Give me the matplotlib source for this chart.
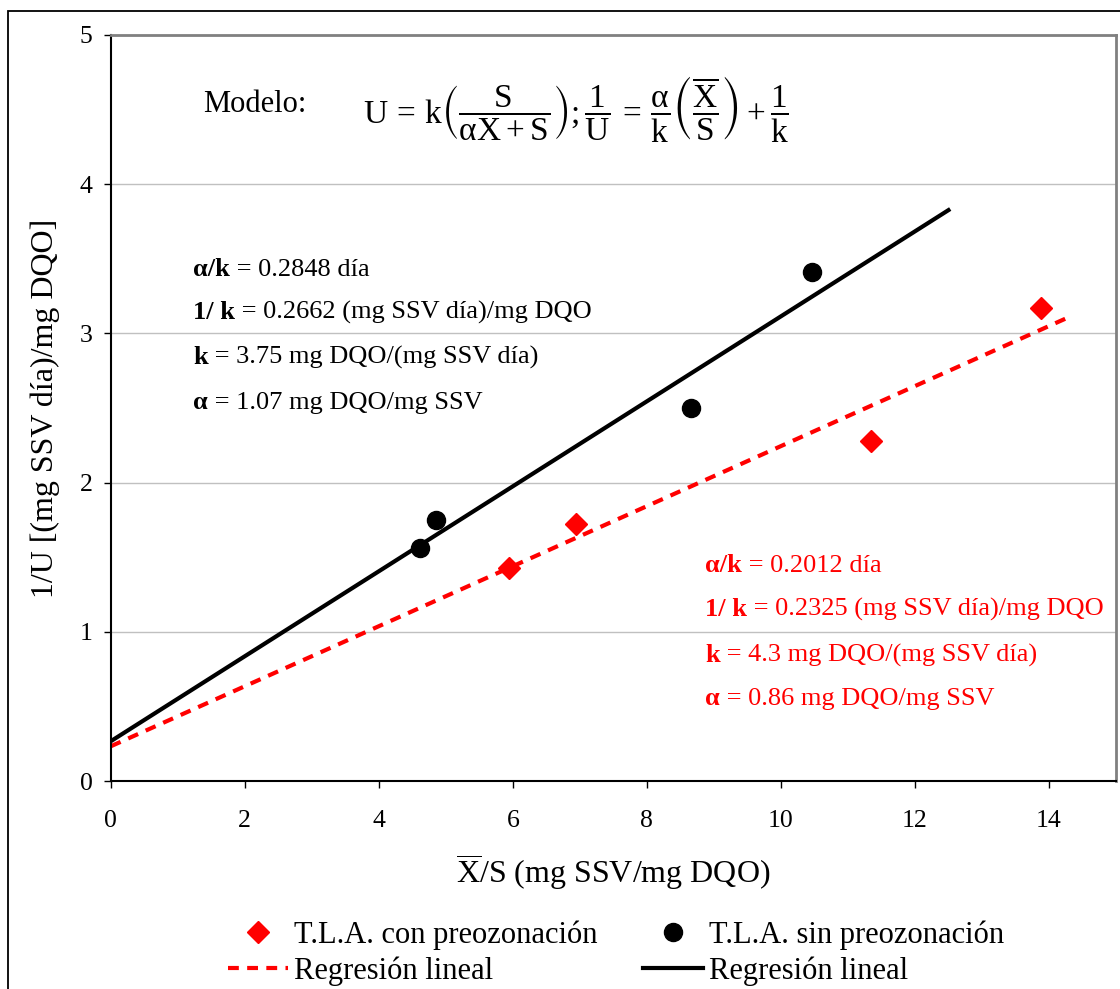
import matplotlib
matplotlib.use("Agg")
import matplotlib.pyplot as plt
from matplotlib.patches import Rectangle
import numpy as np

plt.rcParams['font.family'] = ['Liberation Serif', 'DejaVu Serif']
plt.rcParams['mathtext.fontset'] = 'custom'
plt.rcParams['mathtext.rm'] = 'Liberation Serif'
plt.rcParams['mathtext.it'] = 'Liberation Serif'
plt.rcParams['mathtext.bf'] = 'Liberation Serif:bold'
plt.rcParams['mathtext.fallback'] = 'stix'
plt.rcParams['mathtext.default'] = 'rm'

# Data
x_sin = [4.61, 4.86, 8.66, 10.47]
y_sin = [1.56, 1.75, 2.50, 3.41]
x_con = [5.95, 6.95, 11.35, 13.88]
y_con = [1.43, 1.72, 2.28, 3.17]

slope_sin, icpt_sin, xend_sin = 0.2848, 0.2662, 12.5
slope_con, icpt_con, xend_con = 0.2012, 0.2325, 14.3

xticks = [0, 2, 4, 6, 8, 10, 12, 14]
yticks = [0, 1, 2, 3, 4, 5]

txt_sin = [("α/k", " = 0.2848 día"),
           ("1/ k", " = 0.2662 (mg SSV día)/mg DQO"),
           ("k", " = 3.75 mg DQO/(mg SSV día)"),
           ("α", " = 1.07 mg DQO/mg SSV")]
txt_con = [("α/k", " = 0.2012 día"),
           ("1/ k", " = 0.2325 (mg SSV día)/mg DQO"),
           ("k", " = 4.3 mg DQO/(mg SSV día)"),
           ("α", " = 0.86 mg DQO/mg SSV")]

W, H = 1120, 989
fig = plt.figure(figsize=(W/100, H/100), dpi=100)
ax = fig.add_axes([110.7/W, 1-781/H, (1116-110.7)/W, (781-35)/H])

# figure border
fig.patches.append(Rectangle((8/W, -0.05), 1.2, 1-11/H+0.05, transform=fig.transFigure,
                             fill=False, edgecolor='black', lw=1.3, zorder=0))

ax.set_xlim(0, 15)
ax.set_ylim(0, 5)
ax.set_xticks(xticks)
ax.set_yticks(yticks)
ax.grid(axis='y', color='#c0c0c0', lw=1.0)
ax.set_axisbelow(True)
for s in ['top', 'right']:
    ax.spines[s].set_color('#808080')
    ax.spines[s].set_linewidth(2)
for s in ['left', 'bottom']:
    ax.spines[s].set_color('black')
    ax.spines[s].set_linewidth(1.5)
ax.tick_params(axis='x', direction='out', length=5, width=1, pad=16, labelsize=18.5)
ax.tick_params(axis='y', direction='out', length=5, width=1, pad=8, labelsize=18.5)

xs = np.array([0, xend_sin])
xc = np.array([0, xend_con])
l1, = ax.plot(xc, slope_con*xc + icpt_con, color='red', lw=3, ls=(0, (2.6, 2.0)))
l2, = ax.plot(xs, slope_sin*xs + icpt_sin, color='black', lw=3)
m1, = ax.plot(x_con, y_con, 'D', color='red', ms=11, ls='none')
m2, = ax.plot(x_sin, y_sin, 'o', color='black', ms=13, ls='none')

ax.set_ylabel("1/U [(mg SSV día)/mg DQO]", fontsize=23, labelpad=14)
ax.set_xlabel(r"$\overline{\mathrm{X}}$/S (mg SSV/mg DQO)", fontsize=23, labelpad=14)

# Model text
fig.text(203/W, 1-104/H, "Modelo:", fontsize=22, va='center', ha='left')
fig.text(363/W, 1-109/H,
         r"$U\,=\,k\left(\dfrac{S}{\alpha X + S}\right);\dfrac{1}{U}\,=\,\dfrac{\alpha}{k}\left(\dfrac{\overline{X}}{S}\right)+\dfrac{1}{k}$",
         fontsize=24, va='center', ha='left')

def write_lines(lines, x0, ys, color):
    for (b, r), yy in zip(lines, ys):
        t = fig.text(x0/W, 1-yy/H, b, fontsize=19, fontweight='bold', color=color,
                     va='baseline', ha='left')
        ax.annotate(r, xy=(1, 0), xycoords=t, fontsize=19, color=color,
                    va='bottom', ha='left', annotation_clip=False)

write_lines(txt_sin, 193, [276, 319, 364, 409], 'black')
write_lines(txt_con, 705, [572, 616, 662, 705], 'red')

fig.legend([m1, l1, m2, l2],
           ["T.L.A. con preozonación", "Regresión lineal",
            "T.L.A. sin preozonación", "Regresión lineal"],
           ncol=2, loc='center', bbox_to_anchor=(0.55, 1-953/H), frameon=False,
           fontsize=22, handlelength=1.95, handletextpad=0.2, columnspacing=1.5,
           labelspacing=0.2)

fig.savefig("out.png", dpi=100)
